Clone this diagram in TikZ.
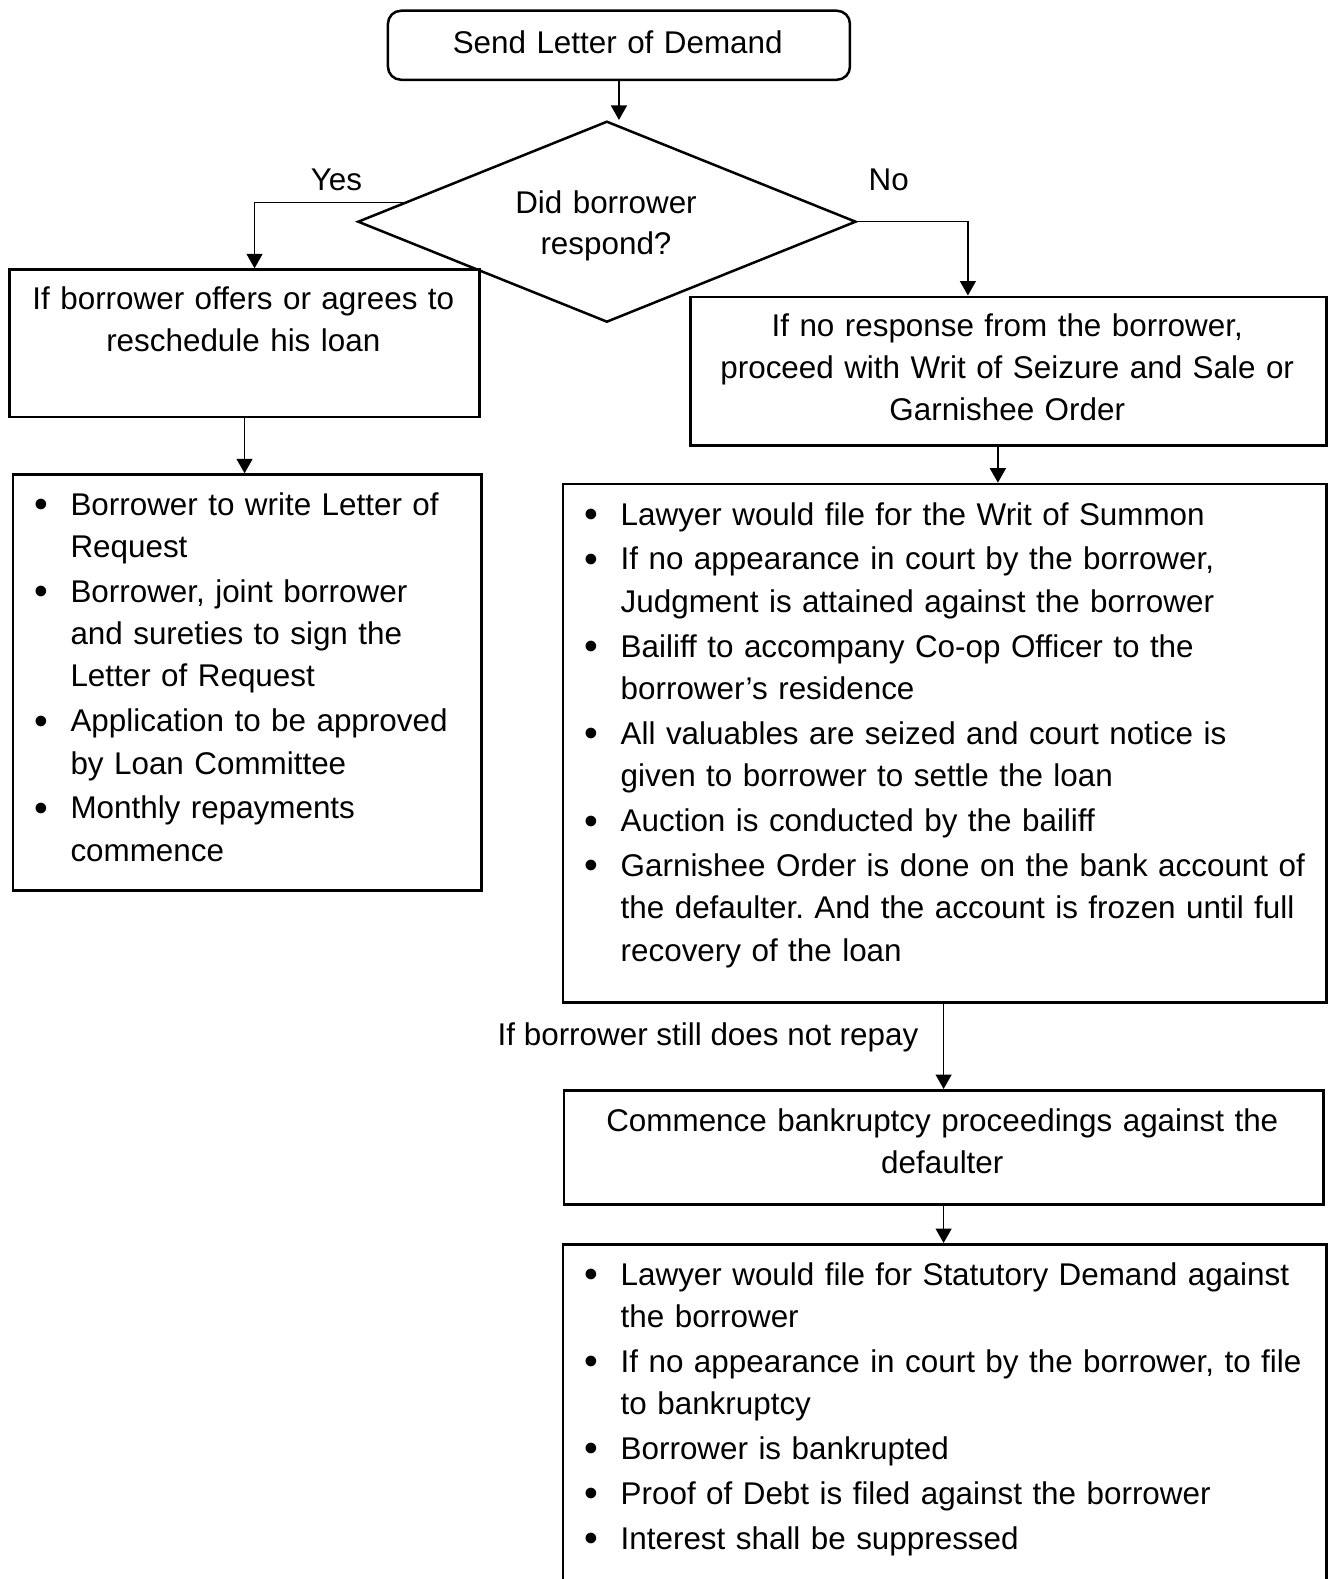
\documentclass[tikz,border=0pt]{standalone}
\usepackage{fontspec}
\setmainfont{Liberation Sans}
\usetikzlibrary{shapes.geometric,arrows.meta,calc}
\newcommand\bul{\leavevmode\llap{\raisebox{-2.5pt}{\scalebox{1.25}{\textbullet}}\hspace{22.3pt}}}
\begin{document}
\begin{tikzpicture}[x=1pt,y=-1pt,
  box/.style={draw, line width=2.5pt, rectangle, inner sep=0pt, anchor=north west},
  conn/.style={line width=1.4pt, -{Triangle[width=16pt,length=14.5pt]}},
  txt/.style={inner sep=0pt, font=\fontsize{31.4pt}{42.3pt}\selectfont\frenchspacing},
  ctxt/.style={txt, anchor=base, text width=760pt, align=center},
  ltxt/.style={txt, anchor=base west, text width=720pt, align=left},
]
\useasboundingbox (0,0) rectangle (1334,1579);
\fill[white] (0,0) rectangle (1334,1579);
\begin{scope}
\clip (0,0) rectangle (1334,1579);

% top box
\node[box, rounded corners=13pt, minimum width=462pt, minimum height=69pt] (top) at (386.7,9.5) {};
\node[ctxt] (ttop) at (617.7,54) {Send Letter of Demand};

% decision
\node[draw, line width=2.5pt, diamond, inner sep=0pt, minimum width=498.3pt, minimum height=201pt] (d) at (606.9,221.7) {};
\node[ctxt, font=\fontsize{31.4pt}{41.3pt}\selectfont] (td) at (606,213) {Did borrower\\respond?};
\node[txt, anchor=base] (yes) at (336.4,190.7) {Yes};
\node[txt, anchor=base] (no) at (888.8,190.7) {No};

% left branch
\node[box, minimum width=470pt, minimum height=147.4pt] (lb1) at (8.3,268.3) {};
\node[ctxt] (tlb1) at (243.3,309.3) {If borrower offers or agrees to\\reschedule his loan};
\node[box, minimum width=468.5pt, minimum height=415.7pt] (lb2) at (11.7,473.3) {};
\node[ltxt] (tlb2) at (70.3,515) {\bul Borrower to write Letter of\\
Request\\[2.6pt]
\bul Borrower, joint borrower\\
and sureties to sign the\\
Letter of Request\\[2.6pt]
\bul Application to be approved\\
by Loan Committee\\[2.6pt]
\bul Monthly repayments\\
commence};

% right branch
\node[box, minimum width=635.7pt, minimum height=148.8pt] (rb1) at (689.3,295.5) {};
\node[ctxt] (trb1) at (1007.2,336) {If no response from the borrower,\\proceed with Writ of Seizure and Sale or\\Garnishee Order};
\node[box, minimum width=763.3pt, minimum height=518.3pt] (rb2) at (561.7,482.7) {};
\node[ltxt] (trb2) at (620.5,525) {\bul Lawyer would file for the Writ of Summon\\[2.6pt]
\bul If no appearance in court by the borrower,\\
Judgment is attained against the borrower\\[2.6pt]
\bul Bailiff to accompany Co-op Officer to the\\
borrower’s residence\\[2.6pt]
\bul All valuables are seized and court notice is\\
given to borrower to settle the loan\\[2.6pt]
\bul Auction is conducted by the bailiff\\[2.6pt]
\bul Garnishee Order is done on the bank account of\\
the defaulter. And the account is frozen until full\\
recovery of the loan};

\node[txt, anchor=base east] (lab) at (918.5,1045) {If borrower still does not repay};

\node[box, minimum width=759.3pt, minimum height=114.3pt] (rb3) at (562.7,1089) {};
\node[ctxt] (trb3) at (942.3,1131.5) {Commence bankruptcy proceedings against the\\defaulter};
\node[box, minimum width=763.3pt, minimum height=400pt] (rb4) at (561.7,1243) {};
\node[ltxt] (trb4) at (620.5,1285) {\bul Lawyer would file for Statutory Demand against\\
the borrower\\[2.6pt]
\bul If no appearance in court by the borrower, to file\\
to bankruptcy\\[2.6pt]
\bul Borrower is bankrupted\\[2.6pt]
\bul Proof of Debt is filed against the borrower\\[2.6pt]
\bul Interest shall be suppressed};

% connectors
\draw[conn] (top.south) -- (top.south |- d.north);
\draw[conn] ($(d.west)!0.188!(d.north)$) -| ([xshift=10pt]lb1.north);
\draw[conn] (d.east) -| ([xshift=-40.5pt]rb1.north);
\draw[conn] (lb1.south) -- (lb1.south |- lb2.north);
\draw[conn] ([xshift=-10.5pt]rb1.south) -- ([xshift=-10.5pt]rb1.south |- rb2.north);
\draw[conn] ([xshift=-1pt]rb2.south) -- ([xshift=-1pt]rb2.south |- rb3.north);
\draw[conn] (rb3.south) -- (rb3.south |- rb4.north);
\end{scope}
\end{tikzpicture}
\end{document}
